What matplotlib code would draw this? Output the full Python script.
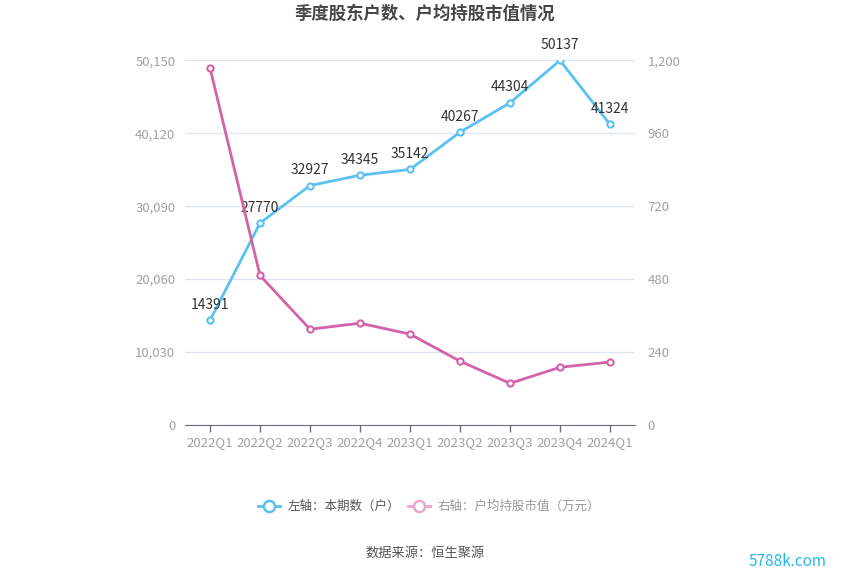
import matplotlib
matplotlib.use("Agg")
import matplotlib.pyplot as plt
from matplotlib.lines import Line2D
from matplotlib.ticker import FuncFormatter

plt.rcParams['font.family'] = ['Noto Sans CJK SC', 'DejaVu Sans']

categories = ["2022Q1", "2022Q2", "2022Q3", "2022Q4", "2023Q1", "2023Q2", "2023Q3", "2023Q4", "2024Q1"]
holders = [14391, 27770, 32927, 34345, 35142, 40267, 44304, 50137, 41324]
avg_value = [1175, 492, 315, 335, 299, 210, 137, 190, 207]
left_ticks = [0, 10030, 20060, 30090, 40120, 50150]
right_ticks = [0, 240, 480, 720, 960, 1200]

blue = '#5bc0f2'
pink = '#d462a8'
W, H = 850, 575
fig = plt.figure(figsize=(W/100, H/100), dpi=100)
ax = fig.add_axes([185/W, 1-425/H, 450/W, (425-60.3)/H])
ax2 = ax.twinx()

x = list(range(len(categories)))
ax.plot(x, holders, color=blue, lw=2, marker='o', ms=4.5, mfc='white', mec=blue, mew=1.5, zorder=5)
ax2.plot(x, avg_value, color=pink, lw=2, marker='o', ms=4.5, mfc='white', mec=pink, mew=1.5, zorder=5)
for xi, v in zip(x, holders):
    ax.annotate(str(v), (xi, v), xytext=(0, 6), textcoords='offset points', ha='center', va='bottom',
                fontsize=10, color='#333333', zorder=6)

ax.set_xlim(-0.5, len(categories) - 0.5)
ax.set_ylim(0, 50150)
ax2.set_ylim(0, 1200)
ax.set_yticks(left_ticks)
ax2.set_yticks(right_ticks)
ax.yaxis.set_major_formatter(FuncFormatter(lambda v, p: f"{int(v):,}"))
ax2.yaxis.set_major_formatter(FuncFormatter(lambda v, p: f"{int(v):,}"))
ax.set_xticks(x)
ax.set_xticklabels(categories)
ax.grid(axis='y', color='#e0e6f1', lw=1)
ax.set_axisbelow(True)
for a in (ax, ax2):
    for s in ['top', 'left', 'right', 'bottom']:
        a.spines[s].set_visible(False)
ax.spines['bottom'].set_visible(True)
ax.spines['bottom'].set_color('#6e7079')
ax.tick_params(axis='x', colors='#6e7079', labelcolor='#a0a0a0', labelsize=9.5, length=5, width=1, pad=3)
ax.tick_params(axis='y', length=0, labelcolor='#a0a0a0', labelsize=9.5, pad=7)
ax2.tick_params(axis='y', length=0, labelcolor='#a0a0a0', labelsize=9.5, pad=9)

fig.text(425/W, 1-14/H, "季度股东户数、户均持股市值情况", ha='center', va='center', fontsize=12.5,
         fontweight='bold', color='#464646')

# legend
ly = 1-506/H
fig.add_artist(Line2D([258/W, 280/W], [ly, ly], color=blue, lw=2, transform=fig.transFigure))
fig.add_artist(Line2D([269/W], [ly], color=blue, marker='o', ms=8, mfc='white', mec=blue, mew=1.8, transform=fig.transFigure))
fig.text(288/W, ly, "左轴：本期数（户）", ha='left', va='center', fontsize=9, color='#555555')
lpink = '#eba6d0'
fig.add_artist(Line2D([408/W, 430/W], [ly, ly], color=lpink, lw=2, transform=fig.transFigure))
fig.add_artist(Line2D([419/W], [ly], color=lpink, marker='o', ms=8, mfc='white', mec=lpink, mew=1.8, transform=fig.transFigure))
fig.text(438/W, ly, "右轴：户均持股市值（万元）", ha='left', va='center', fontsize=9, color='#999999')

fig.text(425/W, 1-553/H, "数据来源：恒生聚源", ha='center', va='center', fontsize=9.5, color='#555555')
fig.text(788/W, 1-561/H, "5788k.com", ha='center', va='center', fontsize=11, color='#22b8ee')

fig.savefig("out.png", dpi=100)
